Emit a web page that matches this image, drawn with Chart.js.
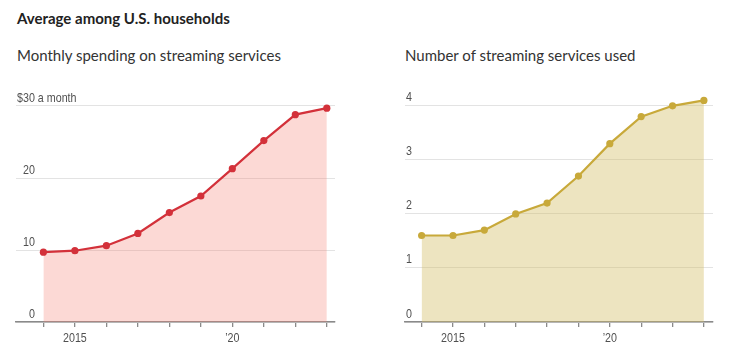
<!DOCTYPE html>
<html>
<head>
<meta charset="utf-8">
<script src="https://cdn.jsdelivr.net/npm/chart.js@4.4.1/dist/chart.umd.min.js"></script>
<style>
  html, body { margin: 0; padding: 0; background: #fff; }
  body { width: 737px; height: 355px; position: relative; overflow: hidden; font-family: Lato, "Noto Sans", sans-serif; }
  .title { position: absolute; left: 17px; top: 9px; font-size: 15px; font-weight: 700; color: #222; white-space: nowrap; }
  .sub { position: absolute; top: 46px; font-size: 15px; font-weight: 400; color: #333; white-space: nowrap; }
  canvas { position: absolute; top: 80px; }
</style>
</head>
<body>
<div class="title">Average among U.S. households</div>
<div class="sub" style="left:17px">Monthly spending on streaming services</div>
<div class="sub" style="left:405px">Number of streaming services used</div>
<canvas id="c1" width="370" height="275" style="left:0px"></canvas>
<canvas id="c2" width="367" height="275" style="left:370px"></canvas>
<script>
const years = [2014, 2015, 2016, 2017, 2018, 2019, 2020, 2021, 2022, 2023];
const spending = [9.7, 9.9, 10.6, 12.3, 15.2, 17.5, 21.3, 25.2, 28.8, 29.7];
const servicesUsed = [1.6, 1.6, 1.7, 2.0, 2.2, 2.7, 3.3, 3.8, 4.0, 4.1];
const spendingTicks = [0, 10, 20, 30];
const servicesTicks = [0, 1, 2, 3, 4];
const xTickLabels = { 2015: '2015', 2020: '\u201920' };
const spendingTopPrefix = '$';
const spendingTopSuffix = ' a month';

const TICK_FONT = '12.6px "Liberation Sans", Arial, sans-serif';
const SQUEEZE = 0.85;

const labelPlugin = {
  id: 'axisLabels',
  afterDraw(chart, args, opts) {
    const ctx = chart.ctx;
    const y = chart.scales.y;
    const x = chart.scales.x;
    const area = chart.chartArea;
    const ticks = opts.ticks;
    const top = ticks[ticks.length - 1];
    ctx.save();
    ctx.font = TICK_FONT;
    ctx.fillStyle = '#505050';
    ctx.textBaseline = 'alphabetic';
    const W = (s) => ctx.measureText(s).width * SQUEEZE;
    const put = (s, px, py) => {
      ctx.save();
      ctx.translate(px, py);
      ctx.scale(SQUEEZE, 1);
      ctx.fillText(s, 0, 0);
      ctx.restore();
    };
    let maxW = 0;
    ticks.forEach(t => {
      let s = String(t);
      if (t === top) s = (opts.prefix || '') + s;
      maxW = Math.max(maxW, W(s));
    });
    const right = area.left + 1 + maxW;
    ticks.forEach(t => {
      const py = y.getPixelForValue(t) - 4.5;
      const s = String(t);
      const w = W(s);
      put(s, right - w, py);
      if (t === top) {
        if (opts.prefix) put(opts.prefix, right - w - W(opts.prefix), py);
        if (opts.suffix) put(opts.suffix, right, py);
      }
    });
    years.forEach(v => {
      const s = xTickLabels[v];
      if (!s) return;
      const px = x.getPixelForValue(v);
      put(s, px - W(s) / 2, area.bottom + 20);
    });
    ctx.restore();
  }
};

function makeChart(id, data, lineColor, fillColor, yMax, yTicks, xMin, xMax, pad, prefix, suffix) {
  return new Chart(document.getElementById(id), {
    type: 'line',
    data: {
      datasets: [{
        data: years.map((yr, i) => ({ x: yr, y: data[i] })),
        borderColor: lineColor,
        backgroundColor: fillColor,
        borderWidth: 2.2,
        pointRadius: 3.6,
        pointBackgroundColor: lineColor,
        pointBorderWidth: 0,
        fill: 'origin',
        tension: 0
      }]
    },
    options: {
      responsive: false,
      devicePixelRatio: 1,
      animation: false,
      events: [],
      layout: { padding: pad },
      plugins: {
        legend: { display: false },
        tooltip: { enabled: false },
        axisLabels: { ticks: yTicks, prefix: prefix, suffix: suffix }
      },
      scales: {
        x: {
          type: 'linear',
          min: xMin, max: xMax,
          afterBuildTicks: (s) => { s.ticks = years.map(v => ({ value: v })); },
          afterFit: (s) => { s.height = 33; },
          ticks: { autoSkip: false, maxRotation: 0, callback: () => '' },
          grid: { drawOnChartArea: false, drawTicks: true, tickLength: 5, color: '#8a8a8a', lineWidth: 1.3 },
          border: { display: true, color: '#8a8a8a', width: 1.6 }
        },
        y: {
          min: 0, max: yMax,
          afterBuildTicks: (s) => { s.ticks = yTicks.map(v => ({ value: v })); },
          afterFit: (s) => { s.width = 0; },
          ticks: { display: false },
          grid: { color: '#e3e3e3', lineWidth: 1, drawTicks: false },
          border: { display: false }
        }
      }
    },
    plugins: [labelPlugin]
  });
}

// y max set a little above the top tick so top marks are not clipped; top padding keeps the top gridline in place
makeChart('c1', spending, '#d3313a', 'rgba(245,128,115,0.3)', 31, spendingTicks,
  2013.13, 2023.26, { left: 16, right: 35, top: 18.8, bottom: 0 }, spendingTopPrefix, spendingTopSuffix);
makeChart('c2', servicesUsed, '#c8a93a', 'rgba(210,188,98,0.4)', 4.2, servicesTicks,
  2013.47, 2023.29, { left: 35, right: 24, top: 15, bottom: 0 }, '', '');
</script>
</body>
</html>
